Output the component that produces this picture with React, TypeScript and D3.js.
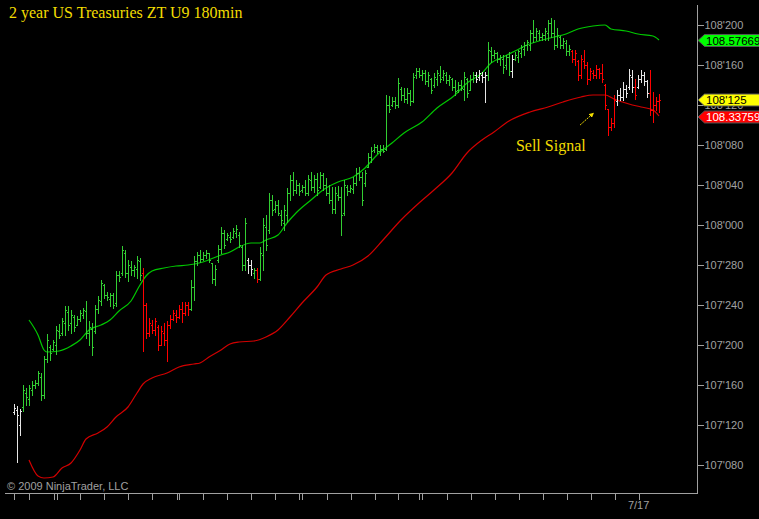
import * as d3 from "d3";

// Prices are stored in 1/320ths above 107'000 (i.e. tenths of a 32nd):
// 108'200 -> 520, 107'080 -> 80.
const highs = [
  141, 139, 136, 160, 157, 160, 164, 165, 174, 172,
  189, 211, 200, 205, 219, 221, 227, 239, 239, 235,
  230, 229, 235, 237, 244, 224, 222, 240, 249, 265,
  261, 253, 252, 252, 274, 274, 299, 295, 285, 284,
  280, 289, 287, 277, 242, 227, 225, 227, 220, 219,
  222, 224, 230, 235, 235, 240, 243, 243, 243, 265,
  289, 293, 295, 293, 295, 292, 282, 280, 300, 318,
  315, 312, 313, 317, 320, 313, 300, 327, 287, 285,
  277, 277, 298, 327, 330, 352, 350, 344, 345, 335,
  340, 357, 370, 373, 365, 362, 360, 365, 370, 373,
  370, 372, 373, 372, 367, 360, 358, 358, 359, 358,
  365, 360, 360, 368, 377, 378, 373, 375, 392, 398,
  401, 400, 400, 400, 450, 449, 448, 448, 467, 458,
  457, 457, 455, 472, 477, 477, 475, 475, 473, 467,
  472, 475, 479, 475, 473, 470, 467, 465, 463, 465,
  473, 467, 470, 473, 473, 475, 473, 473, 503, 498,
  495, 493, 490, 490, 490, 493, 490, 493, 495, 500,
  503, 505, 515, 525, 517, 515, 512, 517, 525, 527,
  525, 517, 509, 507, 505, 500, 495, 495, 485, 490,
  495, 483, 477, 475, 480, 477, 481, 461, 436, 427,
  450, 455, 457, 463, 460, 476, 475, 466, 470, 475,
  473, 465, 475, 453, 448, 451,
];

const lows = [
  131, 83, 110, 134, 140, 140, 150, 157, 160, 145,
  147, 183, 185, 195, 191, 207, 210, 210, 215, 212,
  214, 220, 224, 227, 207, 200, 190, 212, 232, 240,
  247, 245, 239, 237, 239, 264, 270, 268, 264, 270,
  269, 267, 265, 194, 207, 209, 212, 210, 195, 200,
  200, 184, 217, 225, 223, 227, 223, 230, 230, 235,
  245, 280, 283, 285, 287, 283, 262, 260, 283, 292,
  297, 305, 303, 307, 308, 298, 275, 275, 272, 270,
  267, 263, 265, 275, 295, 312, 330, 333, 330, 320,
  315, 323, 345, 350, 352, 350, 353, 350, 350, 355,
  353, 350, 357, 355, 350, 342, 332, 332, 345, 310,
  330, 350, 353, 352, 360, 365, 340, 359, 378, 383,
  393, 392, 390, 393, 395, 433, 439, 437, 438, 445,
  443, 442, 440, 443, 467, 468, 465, 461, 459, 452,
  458, 460, 463, 465, 462, 460, 455, 450, 453, 455,
  445, 448, 455, 463, 463, 465, 463, 443, 465, 483,
  487, 483, 480, 472, 476, 470, 468, 485, 483, 488,
  490, 495, 495, 503, 505, 505, 505, 505, 505, 508,
  496, 498, 497, 497, 490, 490, 483, 480, 465, 467,
  477, 461, 465, 467, 467, 467, 463, 436, 410, 415,
  418, 440, 445, 445, 448, 456, 453, 446, 457, 463,
  460, 448, 430, 423, 435, 433,
];

const opens = [
  133, 135, 120, 138, 152, 146, 155, 160, 162, 168,
  150, 186, 198, 196, 200, 214, 212, 222, 233, 222,
  228, 220, 226, 230, 234, 212, 216, 214, 236, 244,
  260, 250, 246, 250, 242, 270, 272, 292, 272, 278,
  275, 276, 284, 272, 240, 212, 220, 215, 218, 200,
  212, 205, 220, 226, 230, 228, 236, 232, 240, 236,
  258, 284, 290, 286, 290, 292, 282, 266, 285, 296,
  312, 306, 308, 308, 312, 310, 298, 280, 285, 280,
  272, 275, 266, 290, 318, 315, 345, 336, 340, 330,
  322, 330, 352, 365, 355, 360, 355, 358, 352, 365,
  358, 366, 358, 370, 360, 352, 345, 336, 350, 348,
  332, 358, 354, 356, 362, 372, 368, 362, 378, 388,
  395, 398, 394, 396, 396, 440, 440, 444, 440, 456,
  450, 446, 452, 444, 470, 474, 470, 472, 464, 466,
  460, 466, 470, 468, 470, 465, 466, 458, 455, 460,
  456, 466, 455, 466, 470, 468, 470, 468, 470, 494,
  490, 492, 486, 486, 480, 488, 474, 486, 488, 492,
  496, 500, 500, 512, 508, 512, 508, 510, 512, 522,
  512, 500, 508, 500, 502, 494, 494, 486, 484, 470,
  484, 480, 466, 472, 470, 476, 472, 460, 436, 418,
  422, 444, 450, 448, 456, 458, 468, 458, 458, 466,
  470, 464, 452, 435, 440, 444,
];

const closes = [
  137, 130, 134, 155, 148, 157, 160, 162, 172, 150,
  186, 205, 192, 203, 215, 210, 224, 235, 220, 230,
  218, 226, 232, 235, 212, 218, 198, 236, 245, 262,
  250, 248, 250, 240, 270, 268, 295, 272, 280, 275,
  278, 285, 270, 240, 212, 222, 215, 224, 200, 214,
  205, 220, 226, 232, 228, 236, 232, 240, 236, 258,
  284, 290, 286, 290, 292, 285, 266, 276, 296, 312,
  300, 310, 306, 314, 316, 300, 280, 322, 280, 276,
  275, 266, 292, 320, 300, 345, 335, 340, 332, 325,
  335, 352, 365, 355, 360, 354, 358, 352, 366, 358,
  366, 355, 370, 360, 352, 345, 336, 352, 348, 330,
  360, 354, 357, 362, 372, 368, 345, 372, 388, 394,
  398, 394, 396, 394, 440, 436, 444, 440, 462, 450,
  446, 452, 444, 468, 474, 470, 472, 464, 470, 455,
  468, 472, 466, 472, 465, 468, 458, 454, 460, 457,
  468, 452, 466, 470, 466, 472, 468, 470, 495, 490,
  492, 486, 488, 478, 488, 474, 486, 490, 494, 498,
  500, 503, 512, 508, 514, 508, 510, 514, 522, 512,
  500, 510, 500, 504, 494, 496, 486, 492, 470, 486,
  480, 466, 474, 470, 476, 472, 466, 440, 418, 422,
  445, 450, 448, 456, 452, 470, 458, 450, 466, 470,
  464, 452, 435, 440, 444, 445,
];

// bar state runs: u = up (green), d = down (red), n = neutral (white)
const trendRuns: [string, number][] = [
  ["n", 3], ["u", 40], ["d", 16], ["u", 19], ["n", 2], ["u", 1], ["d", 1],
  ["u", 72], ["n", 4], ["u", 8], ["n", 1], ["u", 19], ["d", 15], ["n", 6],
  ["d", 1], ["n", 4], ["d", 4],
];

// moving averages: [bar index, value]
const fastMA: [number, number][] = [
  [5, 225], [8, 210], [10, 195], [11, 193], [15, 194], [19, 199], [22, 205],
  [25, 215], [29, 220], [32, 225], [35, 234], [39, 244], [42, 260], [44, 269],
  [46, 274], [50, 277], [54, 279], [58, 280], [63, 283], [69, 290], [72, 293],
  [75, 298], [79, 302], [82, 302], [84, 305], [88, 310], [91, 322], [94, 332],
  [99, 345], [103, 355], [108, 363], [113, 368], [117, 377], [121, 390],
  [126, 402], [130, 412], [136, 423], [141, 437], [147, 450], [151, 462],
  [156, 472], [159, 482], [163, 488], [167, 494], [171, 500], [176, 505],
  [180, 508], [184, 511], [188, 516], [193, 519], [197, 520], [199, 516],
  [204, 514], [208, 511], [213, 509], [215, 505],
];

const slowMA: [number, number][] = [
  [5, 85], [8, 69], [10, 67], [13, 68], [16, 77], [19, 82], [22, 95],
  [24, 106], [28, 112], [31, 118], [34, 128], [38, 138], [41, 152], [43, 161],
  [46, 167], [51, 172], [55, 178], [60, 181], [62, 182], [65, 188], [69, 195],
  [72, 201], [75, 203], [80, 204], [84, 208], [88, 215], [92, 228], [96, 242],
  [101, 258], [104, 270], [109, 276], [113, 280], [118, 289], [123, 305],
  [129, 325], [135, 342], [140, 355], [146, 372], [151, 392], [156, 405],
  [160, 413], [165, 424], [172, 433], [178, 438], [183, 443], [189, 448],
  [193, 450], [197, 450], [200, 446], [205, 441], [209, 438], [213, 435],
  [215, 429],
];

const fastLast = 108.576695;
const slowLast = 108.337595;

const priceTicks = [80, 120, 160, 200, 240, 280, 320, 360, 400, 440, 480, 520];
const sessionTicks = [
  0, 5, 13.4, 14.2, 22, 30, 38.1, 46.1, 54.2, 55, 63.1, 71.1, 79.1, 87.1,
  95.1, 95.9, 104.2, 112.2, 120.2, 128.1, 135.1, 135.9, 144.2, 152.2, 160.2,
  168.2, 176.2, 184.2, 192.2, 200.2, 208.2,
];
const dateLabels = [{ at: 208.2, text: "7/17" }];

const title = "2 year US Treasuries ZT U9 180min";
const signalText = { bar: 167.3, price: 394, text: "Sell Signal" };
const signalArrow = { from: [188.7, 420], to: [193.2, 432] };

const fmt = (v: number) => {
  const handle = 107 + Math.floor(v / 320);
  const rest = Math.round(v - Math.floor(v / 320) * 320);
  return `${handle}'${String(rest).padStart(3, "0")}`;
};

const colors: Record<string, string> = { u: "#32CD32", d: "#FF0000", n: "#E6E6E6" };
const axisColor = "#a0a0a0";
const yellow = "#F2DC00";
const sans = "'Liberation Sans', Arial, sans-serif";
const serif = "'Liberation Serif', 'Times New Roman', serif";

export default function App() {
  const W = 759, H = 519;
  const x = d3.scaleLinear().domain([0, 215]).range([14, 659]);
  const y = d3.scaleLinear().domain([80, 520]).range([465, 25]);

  const states: string[] = [];
  trendRuns.forEach(([s, n]) => { for (let k = 0; k < n; k++) states.push(s); });

  const line = d3.line<[number, number]>()
    .x(d => x(d[0]))
    .y(d => y(d[1]))
    .curve(d3.curveMonotoneX);

  const px = (i: number) => Math.round(x(i)) + 0.5;
  const py = (v: number) => Math.round(y(v)) + 0.5;
  const toUnits = (p: number) => (p - 107) * 320;

  const flags = [
    { v: toUnits(fastLast), text: String(fastLast), bg: "#00FF00", fg: "#000" },
    { v: closes[closes.length - 1], text: fmt(closes[closes.length - 1]), bg: "#FFFF00", fg: "#000" },
    { v: toUnits(slowLast), text: String(slowLast), bg: "#FF0000", fg: "#fff" },
  ];

  const axX = 697.5, axY = 493.5;
  const a0 = [x(signalArrow.from[0]), y(signalArrow.from[1])];
  const a1 = [x(signalArrow.to[0]), y(signalArrow.to[1])];

  return (
    <svg width={W} height={H} style={{ position: "fixed", left: 0, top: 0, display: "block" }}>
      <defs>
        <marker id="ah" viewBox="0 0 10 10" refX="9" refY="5" markerWidth="5" markerHeight="5" orient="auto">
          <path d="M0,0 L10,5 L0,10 z" fill={yellow} />
        </marker>
      </defs>
      <rect width={W} height={H} fill="#000" />

      <text x={9} y={18} fill={yellow} fontFamily={serif} fontSize={16}>{title}</text>

      {/* moving averages */}
      <path d={line(slowMA) ?? ""} fill="none" stroke="#D20000" strokeWidth={1.2} />
      <path d={line(fastMA) ?? ""} fill="none" stroke="#00C800" strokeWidth={1.2} />

      {/* OHLC bars */}
      <g shapeRendering="crispEdges" strokeWidth={1}>
        {highs.map((h, i) => {
          const c = colors[states[i]];
          const cx = px(i);
          return (
            <g key={i} stroke={c}>
              <line x1={cx} x2={cx} y1={Math.round(y(h))} y2={Math.round(y(lows[i])) + 1} />
              <line x1={cx - 1.5} x2={cx - 0.5} y1={py(opens[i])} y2={py(opens[i])} />
              <line x1={cx + 0.5} x2={cx + 1.5} y1={py(closes[i])} y2={py(closes[i])} />
            </g>
          );
        })}
      </g>

      {/* sell signal annotation */}
      <line x1={a0[0]} y1={a0[1]} x2={a1[0]} y2={a1[1]} stroke={yellow} strokeWidth={1}
        strokeDasharray="2,1" markerEnd="url(#ah)" />
      <text x={x(signalText.bar)} y={y(signalText.price)} fill={yellow} fontFamily={serif} fontSize={16}>
        {signalText.text}
      </text>

      {/* axes */}
      <g shapeRendering="crispEdges" stroke={axisColor}>
        <line x1={axX} x2={axX} y1={5} y2={axY} />
        <line x1={5} x2={axX} y1={axY} y2={axY} />
        {priceTicks.map(t => (
          <line key={t} x1={axX} x2={axX + 6} y1={py(t)} y2={py(t)} />
        ))}
        {sessionTicks.map((t, k) => (
          <line key={k} x1={px(t)} x2={px(t)} y1={axY} y2={axY + 6} />
        ))}
      </g>
      {priceTicks.map(t => (
        <text key={t} x={axX + 7} y={y(t)} dy="0.35em" fill={axisColor} fontFamily={sans} fontSize={11}>
          {fmt(t)}
        </text>
      ))}
      {dateLabels.map(d => (
        <text key={d.text} x={x(d.at)} y={509} textAnchor="middle" fill={axisColor} fontFamily={sans} fontSize={11}>
          {d.text}
        </text>
      ))}

      {/* last value flags */}
      {flags.map(f => {
        const cy = y(f.v);
        const pts = [[axX + 0.5, cy], [axX + 7, cy - 6], [W + 5, cy - 6], [W + 5, cy + 6], [axX + 7, cy + 6]];
        return (
          <g key={f.text}>
            <polygon points={pts.map(p => p.join(",")).join(" ")} fill={f.bg} stroke="#555" strokeWidth={1} />
            <text x={axX + 8.5} y={cy} dy="0.36em" fill={f.fg} fontFamily={sans} fontSize={11.5}>{f.text}</text>
          </g>
        );
      })}

      <text x={7} y={490} fill={axisColor} fontFamily={sans} fontSize={11}>© 2009 NinjaTrader, LLC</text>
    </svg>
  );
}
